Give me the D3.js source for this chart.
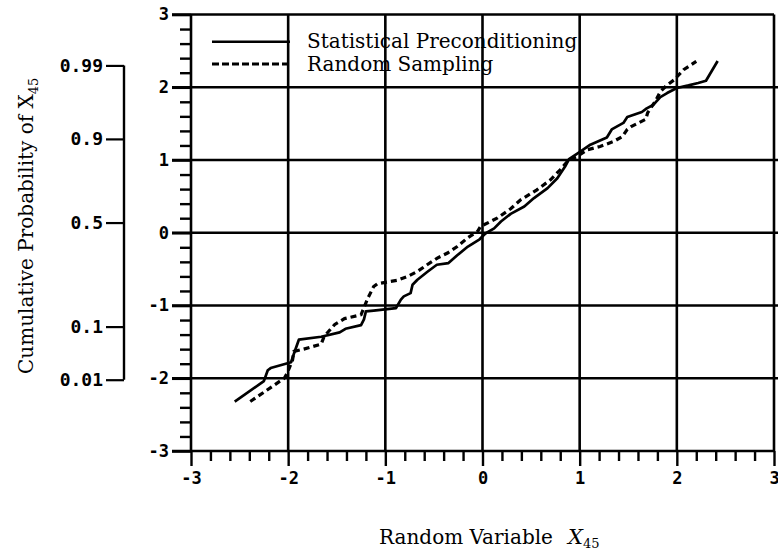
<!DOCTYPE html>
<html><head><meta charset="utf-8">
<script src="https://cdn.jsdelivr.net/npm/d3@7"></script>
<style>body{margin:0;background:#fff}svg{display:block}</style>
</head><body><svg id="c" width="778" height="553"></svg>
<script>
// ---- data ----
const xTicks = [-3, -2, -1, 0, 1, 2, 3];
const yTicks = [-3, -2, -1, 0, 1, 2, 3];
const xTickLabels = ["-3", "-2", "-1", "0", "1", "2", "3"];
const yTickLabels = ["-3", "-2", "-1", "0", "1", "2", "3"];
const probLabels = ["0.99", "0.9", "0.5", "0.1", "0.01"];
const probPositions = [2.30, 1.29, 0.14, -1.29, -2.02];
const seriesNames = ["Statistical Preconditioning", "Random Sampling"];
const xTitle = "Random Variable";
const yTitle = "Cumulative Probability of";
const varName = "X";
const varSub = "45";

const precond = [
  [-2.55,-2.32],[-2.25,-2.04],[-2.21,-1.89],[-2.18,-1.86],[-1.97,-1.78],[-1.94,-1.66],
  [-1.89,-1.47],[-1.66,-1.43],[-1.47,-1.37],[-1.41,-1.32],[-1.25,-1.27],[-1.22,-1.19],
  [-1.20,-1.08],[-1.12,-1.07],[-0.89,-1.035],[-0.84,-0.92],[-0.81,-0.875],[-0.74,-0.83],
  [-0.72,-0.715],[-0.67,-0.646],[-0.57,-0.54],[-0.47,-0.44],[-0.35,-0.417],[-0.26,-0.31],
  [-0.15,-0.19],[-0.03,-0.09],[0.03,-0.01],[0.12,0.06],[0.19,0.155],[0.29,0.26],
  [0.43,0.36],[0.53,0.477],[0.67,0.614],[0.77,0.75],[0.85,0.91],[0.89,1.013],
  [1.01,1.118],[1.11,1.21],[1.28,1.31],[1.33,1.42],[1.45,1.51],[1.49,1.59],
  [1.64,1.66],[1.69,1.71],[1.76,1.76],[1.83,1.865],[1.90,1.92],[2.00,1.99],
  [2.12,2.025],[2.22,2.058],[2.30,2.09],[2.42,2.36]
];
const randomS = [
  [-2.39,-2.32],[-2.04,-2.0],[-2.01,-1.93],[-1.955,-1.75],[-1.94,-1.63],[-1.84,-1.60],
  [-1.66,-1.53],[-1.63,-1.425],[-1.52,-1.26],[-1.42,-1.18],[-1.25,-1.127],[-1.18,-0.90],
  [-1.12,-0.74],[-1.08,-0.70],[-0.88,-0.655],[-0.77,-0.60],[-0.67,-0.532],[-0.57,-0.44],
  [-0.465,-0.348],[-0.36,-0.279],[-0.26,-0.19],[-0.156,-0.073],[-0.05,0.02],[-0.02,0.087],
  [0.15,0.20],[0.29,0.33],[0.39,0.45],[0.56,0.59],[0.70,0.728],[0.80,0.866],
  [0.89,1.003],[0.975,1.049],[1.08,1.141],[1.21,1.186],[1.35,1.255],[1.44,1.324],
  [1.49,1.42],[1.53,1.46],[1.68,1.56],[1.70,1.65],[1.78,1.81],[1.83,1.94],
  [1.90,2.03],[1.97,2.10],[2.07,2.24],[2.20,2.355]
];

// ---- drawing ----
const svg = d3.select("#c");
const W = 778;
const x = d3.scaleLinear().domain([-3, 3]).range([191, 774]);
const y = d3.scaleLinear().domain([-3, 3]).range([451, 14.5]);
const tickFont = "'DejaVu Sans Mono', monospace";
const serif = "'DejaVu Serif', serif";

const minorX = d3.range(-3, 3.001, 0.2).filter(v => Math.abs(v - Math.round(v)) > 1e-6);
const minorY = minorX;

// horizontal grid lines (extend left of axis like long ticks)
svg.append("g").selectAll("line").data(yTicks).join("line")
  .attr("x1", x(-3) - 19).attr("x2", d => (d === 3 || d === -3) ? x(3) : W)
  .attr("y1", d => y(d)).attr("y2", d => y(d))
  .attr("stroke", "#000").attr("stroke-width", 2.6);

// vertical grid lines
svg.append("g").selectAll("line").data(xTicks).join("line")
  .attr("x1", d => x(d)).attr("x2", d => x(d))
  .attr("y1", y(3)).attr("y2", y(-3))
  .attr("stroke", "#000").attr("stroke-width", 2.6);

// bottom axis: major + minor ticks (downwards)
const xAxisMajor = d3.axisBottom(x).tickValues(xTicks).tickSize(15).tickPadding(6)
  .tickFormat((d, i) => xTickLabels[i]);
const gx = svg.append("g").attr("transform", `translate(0,${y(-3)})`).call(xAxisMajor);
gx.select(".domain").remove();
gx.selectAll("line").attr("stroke-width", 2.4);
gx.selectAll("text").attr("font-family", tickFont).attr("font-weight", "bold")
  .attr("font-size", 17).attr("fill", "#000");
const gxm = svg.append("g").attr("transform", `translate(0,${y(-3)})`)
  .call(d3.axisBottom(x).tickValues(minorX).tickSize(10).tickFormat(""));
gxm.select(".domain").remove();
gxm.selectAll("line").attr("stroke-width", 2.4);

// left axis: labels + minor ticks
const yAxisMajor = d3.axisLeft(y).tickValues(yTicks).tickSize(19).tickPadding(3)
  .tickFormat((d, i) => yTickLabels[i]);
const gy = svg.append("g").attr("transform", `translate(${x(-3)},0)`).call(yAxisMajor);
gy.select(".domain").remove();
gy.selectAll("line").attr("stroke-width", 2.6);
gy.selectAll("text").attr("font-family", tickFont).attr("font-weight", "bold")
  .attr("font-size", 17).attr("fill", "#000");
const gym = svg.append("g").attr("transform", `translate(${x(-3)},0)`)
  .call(d3.axisLeft(y).tickValues(minorY).tickSize(11).tickFormat(""));
gym.select(".domain").remove();
gym.selectAll("line").attr("stroke-width", 2.4);

// probability bracket axis
const bx = 124;
const pAxis = d3.axisLeft(y).tickValues(probPositions).tickSize(18).tickPadding(3)
  .tickFormat((d, i) => probLabels[i]);
const gp = svg.append("g").attr("transform", `translate(${bx},0)`).call(pAxis);
gp.select(".domain").remove();
gp.selectAll("line").attr("stroke-width", 2.2);
gp.selectAll("text").attr("font-family", tickFont).attr("font-weight", "bold")
  .attr("font-size", 18).attr("fill", "#000");
svg.append("line").attr("x1", bx).attr("x2", bx)
  .attr("y1", y(d3.max(probPositions))).attr("y2", y(d3.min(probPositions)))
  .attr("stroke", "#000").attr("stroke-width", 2.4);

// curves
const line = d3.line().x(d => x(d[0])).y(d => y(d[1]));
svg.append("path").datum(precond).attr("d", line)
  .attr("fill", "none").attr("stroke", "#000").attr("stroke-width", 2.7)
  .attr("stroke-linejoin", "round");
svg.append("path").datum(randomS).attr("d", line)
  .attr("fill", "none").attr("stroke", "#000").attr("stroke-width", 3.2)
  .attr("stroke-dasharray", "6,4");

// legend
const lg = svg.append("g");
const legY = [41.7, 64];
lg.append("line").attr("x1", 212).attr("x2", 290).attr("y1", legY[0]).attr("y2", legY[0])
  .attr("stroke", "#000").attr("stroke-width", 2.6);
lg.append("line").attr("x1", 212).attr("x2", 290).attr("y1", legY[1]).attr("y2", legY[1])
  .attr("stroke", "#000").attr("stroke-width", 3).attr("stroke-dasharray", "7,3");
lg.selectAll("text").data(seriesNames).join("text")
  .attr("x", 307).attr("y", (d, i) => legY[i] + 6.5)
  .attr("font-family", serif).attr("font-size", 20).attr("fill", "#000").text(d => d);

// x title
const xt = svg.append("text").attr("x", 379).attr("y", 544)
  .attr("font-family", serif).attr("font-size", 20).attr("fill", "#000");
xt.append("tspan").text(xTitle);
xt.append("tspan").attr("x", 568).attr("font-style", "italic").attr("font-size", 21).text(varName);
xt.append("tspan").attr("font-size", 13).attr("dy", 4).text(varSub);

// y title
const yt = svg.append("text").attr("transform", `translate(33,374) rotate(-90)`)
  .attr("font-family", serif).attr("font-size", 20).attr("fill", "#000");
yt.append("tspan").text(yTitle + " ");
yt.append("tspan").text(varName);
yt.append("tspan").attr("font-size", 13).attr("dy", 5).text(varSub);
</script></body></html>
